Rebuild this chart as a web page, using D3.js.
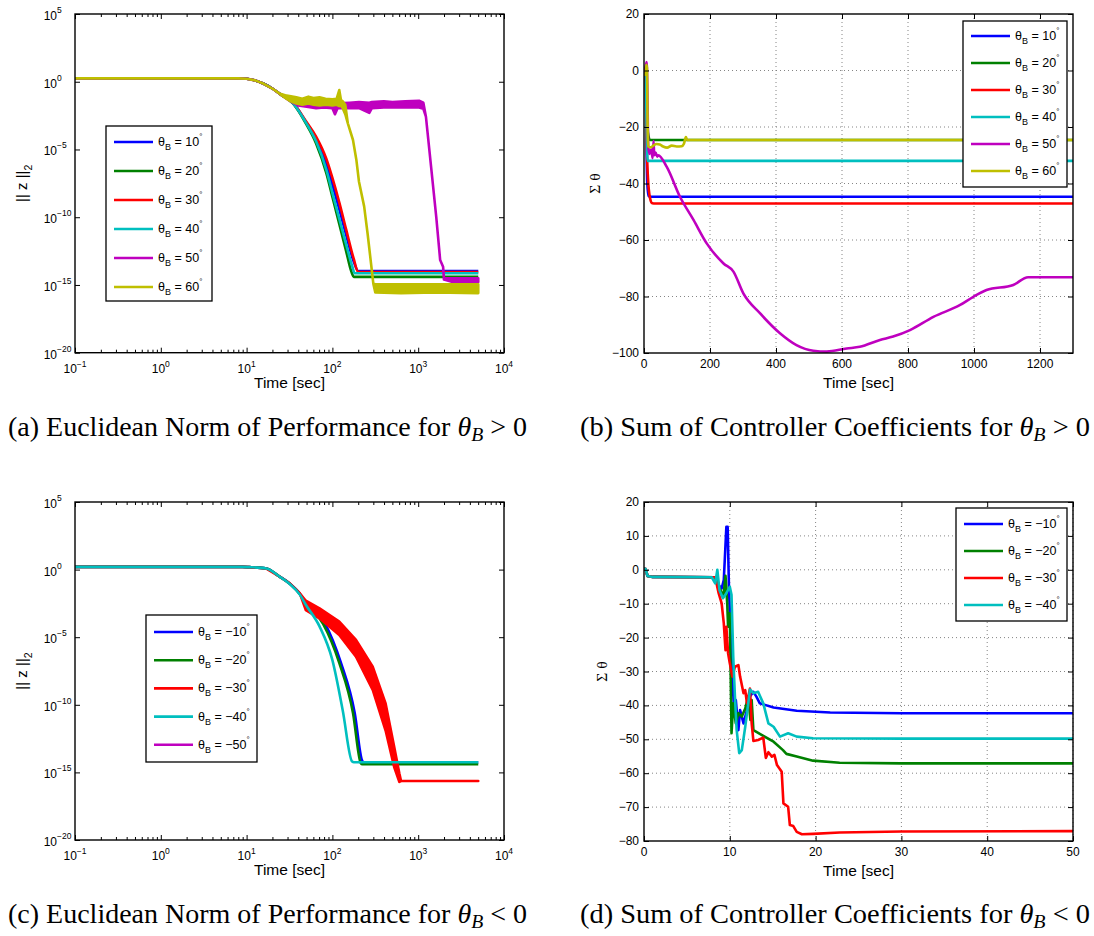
<!DOCTYPE html>
<html>
<head>
<meta charset="utf-8">
<script src="https://cdn.jsdelivr.net/npm/d3@7"></script>
<style>
  body { margin: 0; background: #fff; }
  text { font-family: "Liberation Sans", Arimo, Arial, Helvetica, sans-serif; fill: #000; }
  .cap { font-family: "Liberation Serif", Tinos, "Times New Roman", Times, serif; }
</style>
</head>
<body>
<svg id="fig" width="1094" height="936"></svg>
<script>
// ---------- data ----------
const colors = ["#0000ff", "#008000", "#ff0000", "#00bfbf", "#bf00bf", "#bfbf00"];
const anglesPos = [10, 20, 30, 40, 50, 60];
const anglesNeg = [-10, -20, -30, -40, -50];
const anglesNegD = [-10, -20, -30, -40];

const xLogTicks = [1e-1, 1, 10, 100, 1000, 10000];
const yLogTicks = [1e-20, 1e-15, 1e-10, 1e-5, 1, 1e5];
const xTicksB = [0, 200, 400, 600, 800, 1000, 1200];
const yTicksB = [-100, -80, -60, -40, -20, 0, 20];
const xTicksD = [0, 10, 20, 30, 40, 50];
const yTicksD = [-80, -70, -60, -50, -40, -30, -20, -10, 0, 10, 20];

// (a) ||z||2, theta_B > 0 : [log10 t, log10 z]
const normBlueA = [[-1,0.25],[0.9,0.25],[1.0,0.22],[1.1,0.1],[1.2,-0.15],[1.3,-0.5],[1.4,-0.95],[1.54,-1.55],[1.69,-2.95],[1.81,-4.2],[1.93,-6.1],[2.0,-7.6],[2.08,-9.4],[2.16,-11.3],[2.25,-13.3],[2.3,-13.97],[3.7,-13.97]];
const normGreenA = [[-1,0.25],[0.9,0.25],[1.0,0.22],[1.1,0.1],[1.2,-0.15],[1.3,-0.5],[1.4,-0.95],[1.54,-1.6],[1.69,-3.07],[1.81,-4.55],[1.93,-6.76],[2.0,-8.5],[2.08,-10.5],[2.16,-12.5],[2.22,-14.0],[2.25,-14.4],[3.7,-14.4]];
const normRedA = [[-1,0.25],[0.9,0.25],[1.0,0.22],[1.1,0.1],[1.2,-0.15],[1.3,-0.5],[1.4,-0.95],[1.54,-1.55],[1.69,-2.9],[1.81,-4.05],[1.93,-5.7],[2.0,-7.1],[2.08,-8.9],[2.16,-10.9],[2.25,-13.1],[2.3,-14.05],[3.7,-14.05]];
const normCyanA = [[-1,0.25],[0.9,0.25],[1.0,0.22],[1.1,0.1],[1.2,-0.15],[1.3,-0.5],[1.4,-0.95],[1.54,-1.58],[1.69,-3.0],[1.81,-4.4],[1.93,-6.5],[2.0,-8.2],[2.08,-10.1],[2.16,-12.0],[2.23,-13.6],[2.26,-14.14],[3.7,-14.14]];
// noisy ones: [log10 t, low, high]
const normMagentaA = [[-1,0.25,0.25],[0.9,0.25,0.25],[1.0,0.22,0.22],[1.1,0.1,0.1],[1.2,-0.15,-0.15],[1.3,-0.5,-0.5],[1.4,-0.95,-0.95],[1.5,-1.4,-1.15],[1.6,-1.75,-1.4],[1.7,-1.85,-1.5],[1.81,-1.95,-1.55],[1.9,-1.9,-1.55],[2.0,-1.95,-1.6],[2.03,-2.4,-1.65],[2.06,-1.95,-1.6],[2.2,-1.95,-1.55],[2.31,-1.95,-1.5],[2.43,-2.3,-1.55],[2.46,-1.95,-1.5],[2.6,-1.9,-1.45],[2.7,-1.9,-1.5],[2.85,-1.9,-1.45],[3.01,-1.9,-1.4],[3.06,-2.0,-1.55],[3.09,-2.58,-2.58],[3.15,-6.27,-6.27],[3.21,-9.96,-9.96],[3.256,-13.16,-13.16],[3.29,-13.65,-13.65],[3.3,-14.6,-14.5],[3.4,-14.78,-14.5],[3.7,-14.78,-14.5]];
const normYellowA = [[-1,0.25,0.25],[0.9,0.25,0.25],[1.0,0.22,0.22],[1.1,0.1,0.1],[1.2,-0.15,-0.15],[1.3,-0.5,-0.5],[1.38,-0.86,-0.86],[1.45,-1.2,-1.0],[1.5,-1.4,-1.05],[1.58,-1.6,-1.15],[1.65,-1.7,-1.25],[1.72,-1.6,-1.1],[1.78,-1.7,-1.2],[1.85,-1.75,-1.15],[1.92,-1.7,-1.25],[2.0,-1.75,-1.3],[2.05,-1.7,-1.25],[2.08,-1.8,-0.61],[2.1,-1.75,-1.35],[2.12,-1.95,-1.45],[2.15,-2.4,-1.7],[2.18,-3.07,-3.07],[2.24,-4.3,-4.3],[2.28,-5.8,-5.8],[2.31,-7.38,-7.38],[2.37,-9.2,-9.2],[2.41,-11.2,-11.2],[2.45,-13.4,-13.4],[2.477,-14.9,-14.9],[2.5,-15.55,-14.95],[2.8,-15.6,-14.95],[3.2,-15.55,-14.95],[3.7,-15.6,-14.95]];

// (b) sum of theta, theta_B > 0 : [t, value]
const sumBlueB = [[0,0],[5,-1],[8,-30],[10,-40],[14,-44.5],[20,-44.7],[1300,-44.7]];
const sumGreenB = [[0,0],[5,-1],[8,-10],[12,-22],[18,-24.6],[1300,-24.6]];
const sumRedB = [[0,0],[5,-1],[8,-25],[12,-38],[18,-45],[25,-47],[35,-47.1],[1300,-47.1]];
const sumCyanB = [[0,0],[5,-1],[8,-20],[11,-32],[1300,-32]];
const sumMagentaB = [[0,-1],[6,2],[8,3],[10,-5],[13,-27],[17,-29.5],[22,-28],[26,-31],[29,-25],[31,-30],[35,-29],[40,-30.5],[43,-30],[69,-34.1],[109,-44.7],[150,-52.9],[190,-61.2],[241,-68.3],[271,-71.2],[301,-78.9],[352,-86],[412,-93],[462,-97.2],[513,-99.2],[554,-99.5],[614,-98.4],[654,-97.8],[715,-95.4],[755,-94.2],[806,-91.9],[877,-87.2],[958,-83],[998,-80.1],[1038,-77.7],[1119,-75.9],[1164,-73.2],[1300,-73.2]];
const sumYellowB = [[0,-1],[4,-1.5],[7,2],[9,1],[11,-20],[13,-26.9],[20,-27.2],[28,-26.6],[38,-26.0],[48,-26.2],[58,-26.9],[70,-27.3],[84,-26.6],[99,-26.9],[114,-26.8],[121,-25.9],[127,-23.6],[131,-24.6],[1300,-24.6]];

// (c) ||z||2, theta_B < 0
const normBlueC = [[-1,0.2],[0.95,0.2],[1.03,0.18],[1.23,0.08],[1.38,-0.5],[1.5,-1.02],[1.62,-1.78],[1.69,-2.45],[1.91,-3.95],[2.1,-6.9],[2.26,-10.6],[2.345,-14.1],[2.36,-14.25],[3.7,-14.25]];
const normGreenC = [[-1,0.2],[0.95,0.2],[1.03,0.18],[1.23,0.08],[1.38,-0.5],[1.5,-1.03],[1.62,-1.8],[1.69,-2.5],[1.89,-4.0],[2.08,-6.9],[2.24,-10.6],[2.33,-14.3],[2.35,-14.4],[3.7,-14.4]];
const normRedC = [[-1,0.2,0.2],[0.95,0.2,0.2],[1.03,0.18,0.18],[1.23,0.08,0.08],[1.38,-0.5,-0.5],[1.5,-1.0,-1.0],[1.62,-1.75,-1.75],[1.69,-2.99,-2.3],[1.85,-3.6,-2.86],[2.08,-4.84,-3.85],[2.275,-6.44,-5.2],[2.47,-8.9,-7.18],[2.62,-11.9,-9.9],[2.72,-14.6,-13.1],[2.78,-15.7,-15.07],[2.8,-15.64,-15.64],[3.7,-15.64,-15.64]];
const normCyanC = [[-1,0.2],[0.95,0.2],[1.03,0.18],[1.23,0.08],[1.38,-0.5],[1.5,-1.05],[1.62,-1.85],[1.69,-2.6],[1.85,-4.2],[2.0,-6.7],[2.12,-10.4],[2.23,-14.2],[2.25,-14.25],[3.7,-14.25]];

// (d) sum of theta, theta_B < 0
const sumBlueD = [[0,0.3],[0.2,0.2],[0.4,-1.8],[1,-2.1],[8.3,-2.2],[8.7,-4.5],[9.05,-5.5],[9.3,-3],[9.6,12.7],[9.75,12.7],[9.9,-5],[10.1,-19.7],[10.3,-31.5],[10.5,-41.4],[10.7,-38.4],[11.0,-47.3],[11.2,-41.4],[11.6,-45.3],[12.0,-41.4],[12.35,-37.4],[12.75,-36],[13.1,-37.4],[13.5,-39.4],[15.1,-40.6],[17.8,-41.6],[21.7,-42.1],[30,-42.3],[50,-42.3]];
const sumGreenD = [[0,0.3],[0.2,0.2],[0.4,-1.8],[1,-2.1],[8.3,-2.2],[8.9,-6],[9.25,-7.9],[9.5,-1.8],[9.7,-9.9],[9.8,-16.8],[10.0,-12.8],[10.2,-48.2],[10.4,-39.4],[10.7,-45.3],[11.0,-42.3],[11.4,-43.3],[11.8,-40.9],[12.15,-37.4],[12.4,-44.3],[12.55,-38.4],[12.75,-47.3],[13.7,-48.7],[15.1,-50.7],[16.2,-53.2],[16.6,-54.3],[17.8,-55.1],[19.7,-56.3],[22.8,-56.9],[30,-57.1],[50,-57.1]];
const sumRedD = [[0,0.3],[0.2,0.2],[0.4,-1.8],[1,-2.1],[8.3,-2.2],[8.7,-6.9],[9.05,-9.9],[9.3,-15.8],[9.5,-23.7],[9.6,-16.8],[9.8,-24.6],[10.0,-27.6],[10.3,-31.5],[10.6,-28.6],[11.0,-28.1],[11.2,-31.5],[11.6,-36.4],[11.8,-35.5],[12.0,-39.4],[12.35,-35],[12.55,-45.3],[12.75,-50.5],[13.3,-50.2],[13.9,-49.5],[14.2,-55.5],[14.5,-53.8],[14.9,-55.1],[15.2,-54.6],[15.5,-57.6],[16.05,-59.6],[16.25,-68.9],[16.8,-69.9],[17.0,-75.3],[17.4,-75.6],[17.8,-77.3],[18.4,-78],[19.7,-77.9],[22.8,-77.5],[30,-77.2],[50,-77.1]];
const sumCyanD = [[0,0.3],[0.2,0.2],[0.4,-1.8],[1,-2.1],[7.9,-2.2],[8.3,-4],[8.55,0],[8.8,-6],[9.2,-8.4],[9.6,-6.9],[10.0,-5],[10.2,-7.4],[10.4,-25.6],[10.6,-37.4],[10.8,-47.3],[11.1,-54.1],[11.4,-53.2],[11.8,-46.3],[12.15,-39.4],[12.35,-35.3],[12.75,-36.4],[13.3,-36],[13.9,-39.4],[14.5,-45.3],[15.1,-46.3],[15.85,-49.2],[16.8,-48.2],[17.8,-49.2],[19.7,-49.7],[30,-49.8],[50,-49.8]];

// ---------- drawing ----------
const svg = d3.select("#fig");
let clipCount = 0;

function frame(p) {
  const g = svg.append("g");
  const id = "clip" + (clipCount++);
  svg.append("clipPath").attr("id", id).append("rect")
    .attr("x", p.left).attr("y", p.top)
    .attr("width", p.right - p.left).attr("height", p.bottom - p.top);
  g.clipId = id;
  return g;
}

function addAxes(g, p, x, y, xMajor, yMajor, xMinor) {
  const ax = g.append("g").attr("class", "axes");
  const mk = (sel) => { sel.select(".domain").remove(); sel.selectAll("line").attr("stroke", "#000"); };
  ax.append("g").attr("transform", `translate(0,${p.bottom})`)
    .call(d3.axisBottom(x).tickValues(xMajor).tickSize(-5).tickFormat("")).call(mk);
  ax.append("g").attr("transform", `translate(0,${p.top})`)
    .call(d3.axisTop(x).tickValues(xMajor).tickSize(-5).tickFormat("")).call(mk);
  if (xMinor) {
    ax.append("g").attr("transform", `translate(0,${p.bottom})`)
      .call(d3.axisBottom(x).tickValues(xMinor).tickSize(-3).tickFormat("")).call(mk);
    ax.append("g").attr("transform", `translate(0,${p.top})`)
      .call(d3.axisTop(x).tickValues(xMinor).tickSize(-3).tickFormat("")).call(mk);
  }
  ax.append("g").attr("transform", `translate(${p.left},0)`)
    .call(d3.axisLeft(y).tickValues(yMajor).tickSize(-5).tickFormat("")).call(mk);
  ax.append("g").attr("transform", `translate(${p.right},0)`)
    .call(d3.axisRight(y).tickValues(yMajor).tickSize(-5).tickFormat("")).call(mk);
  ax.append("rect").attr("x", p.left).attr("y", p.top)
    .attr("width", p.right - p.left).attr("height", p.bottom - p.top)
    .attr("fill", "none").attr("stroke", "#000").attr("stroke-width", 1.4);
}

function grid(g, p, x, y, xMajor, yMajor) {
  const gg = g.append("g").attr("stroke", "#777").attr("stroke-width", 0.9).attr("stroke-dasharray", "1,3");
  gg.selectAll(".gx").data(xMajor.slice(1, -1)).enter().append("line")
    .attr("x1", d => x(d)).attr("x2", d => x(d)).attr("y1", p.top).attr("y2", p.bottom);
  gg.selectAll(".gy").data(yMajor.slice(1, -1)).enter().append("line")
    .attr("y1", d => y(d)).attr("y2", d => y(d)).attr("x1", p.left).attr("x2", p.right);
}

function legend(g, bx, by, bw, bh, firstY, step, angles) {
  const lg = g.append("g");
  lg.append("rect").attr("x", bx).attr("y", by).attr("width", bw).attr("height", bh)
    .attr("fill", "#fff").attr("stroke", "#000").attr("stroke-width", 1.3);
  angles.forEach((a, i) => {
    const yy = firstY + i * step;
    lg.append("line").attr("x1", bx + 8).attr("x2", bx + 47).attr("y1", yy).attr("y2", yy)
      .attr("stroke", colors[i]).attr("stroke-width", 2.6);
    const t = lg.append("text").attr("x", bx + 52).attr("y", yy + 4).attr("font-size", 12.5);
    t.append("tspan").text("\u03b8");
    t.append("tspan").attr("dy", 4).attr("font-size", 9).text("B");
    t.append("tspan").attr("dy", -4).text(" = " + (a < 0 ? "\u2212" + (-a) : a));
    t.append("tspan").attr("dy", -7).attr("font-size", 8).text("\u00b0");
  });
}

function logLabels(g, p, x, y) {
  xLogTicks.forEach(v => {
    const e = Math.round(Math.log10(v));
    const t = g.append("text").attr("x", x(v)).attr("y", p.bottom + 20)
      .attr("text-anchor", "middle").attr("font-size", 12);
    t.append("tspan").text("10");
    t.append("tspan").attr("dy", -6).attr("font-size", 8.5).text(e < 0 ? "\u2212" + (-e) : e);
  });
  yLogTicks.forEach(v => {
    const e = Math.round(Math.log10(v));
    g.append("text").attr("x", p.left - 18).attr("y", y(v) + 6)
      .attr("text-anchor", "end").attr("font-size", 12).text("10");
    g.append("text").attr("x", p.left - 18).attr("y", y(v) - 1)
      .attr("font-size", 8.5).text(e < 0 ? "\u2212" + (-e) : e);
  });
}

function linLabels(g, p, x, y, xt, yt) {
  const fmt = d3.format("");
  g.selectAll(null).data(xt).enter().append("text")
    .attr("x", d => x(d)).attr("y", p.bottom + 15).attr("text-anchor", "middle")
    .attr("font-size", 12).text(d => fmt(d));
  g.selectAll(null).data(yt).enter().append("text")
    .attr("x", p.left - 5).attr("y", d => y(d) + 4).attr("text-anchor", "end")
    .attr("font-size", 12).text(d => fmt(d));
}

function xLabel(g, p, dy) {
  g.append("text").attr("x", (p.left + p.right) / 2).attr("y", p.bottom + dy)
    .attr("text-anchor", "middle").attr("font-size", 15.5).text("Time [sec]");
}

function normYLabel(g, cx, cy) {
  const t = g.append("text").attr("transform", `translate(${cx},${cy}) rotate(-90)`)
    .attr("text-anchor", "middle").attr("dy", "0.35em").attr("font-size", 15);
  t.append("tspan").text("|| z ||");
  t.append("tspan").attr("dy", 5).attr("font-size", 10.5).text("2");
}

function sumYLabel(g, cx, cy) {
  g.append("text").attr("transform", `translate(${cx},${cy}) rotate(-90)`)
    .attr("text-anchor", "middle").attr("dy", "0.35em").attr("font-size", 15.5)
    .style("font-family", "'Liberation Serif', Tinos, serif").text("\u03a3 \u03b8");
}

function caption(x0, yb, w, letter, words, rel) {
  const t = svg.append("text").attr("class", "cap").attr("x", x0).attr("y", yb)
    .attr("font-size", 27).attr("textLength", w).attr("lengthAdjust", "spacingAndGlyphs");
  t.append("tspan").text(`(${letter}) ${words} for `);
  t.append("tspan").attr("font-style", "italic").text("\u03b8");
  t.append("tspan").attr("font-style", "italic").attr("font-size", 19).attr("dy", 5).text("B");
  t.append("tspan").attr("dy", -5).text(` ${rel} 0`);
}

const xMinorLog = [];
[-1, 0, 1, 2, 3].forEach(k => { for (let m = 2; m <= 9; m++) xMinorLog.push(m * Math.pow(10, k)); });

function logPanel(p, lines, angles, leg) {
  const g = frame(p);
  const x = d3.scaleLog().domain([1e-1, 1e4]).range([p.left, p.right]);
  const y = d3.scaleLog().domain([1e-20, 1e5]).range([p.bottom, p.top]);
  const data = g.append("g").attr("clip-path", `url(#${g.clipId})`);
  const line = d3.line().curve(d3.curveMonotoneX)
    .x(d => x(Math.pow(10, d[0]))).y(d => y(Math.pow(10, d[1])));
  const area = d3.area().x(d => x(Math.pow(10, d[0])))
    .y0(d => y(Math.pow(10, d[1]))).y1(d => y(Math.pow(10, d[2])));
  lines.forEach(s => {
    if (s.band) {
      data.append("path").attr("d", area(s.pts)).attr("fill", colors[s.c])
        .attr("stroke", colors[s.c]).attr("stroke-width", 2.6).attr("stroke-linejoin", "round");
    } else {
      data.append("path").attr("d", line(s.pts)).attr("fill", "none")
        .attr("stroke", colors[s.c]).attr("stroke-width", 2.6).attr("stroke-linejoin", "round");
    }
  });
  addAxes(g, p, x, y, xLogTicks, yLogTicks, xMinorLog);
  logLabels(g, p, x, y);
  xLabel(g, p, 35);
  normYLabel(g, 22, (p.top + p.bottom) / 2);
  legend(g, leg[0], leg[1], leg[2], leg[3], leg[4], leg[5], angles);
}

function linPanel(p, xDom, yDom, xt, yt, lines, angles, leg, ylx, smooth) {
  const g = frame(p);
  const x = d3.scaleLinear().domain(xDom).range([p.left, p.right]);
  const y = d3.scaleLinear().domain(yDom).range([p.bottom, p.top]);
  grid(g, p, x, y, xt.concat([xDom[1]]), yt);
  const data = g.append("g").attr("clip-path", `url(#${g.clipId})`);
  const line = d3.line().curve(smooth ? d3.curveMonotoneX : d3.curveLinear)
    .x(d => x(d[0])).y(d => y(d[1]));
  lines.forEach(s => {
    data.append("path").attr("d", line(s.pts)).attr("fill", "none")
      .attr("stroke", colors[s.c]).attr("stroke-width", 2.6).attr("stroke-linejoin", "round");
  });
  addAxes(g, p, x, y, xt, yt, null);
  linLabels(g, p, x, y, xt, yt);
  xLabel(g, p, 35);
  sumYLabel(g, ylx, (p.top + p.bottom) / 2);
  legend(g, leg[0], leg[1], leg[2], leg[3], leg[4], leg[5], angles);
}

// (a)
logPanel({ left: 75, right: 504, top: 14, bottom: 352.7 },
  [{ c: 0, pts: normBlueA }, { c: 1, pts: normGreenA }, { c: 2, pts: normRedA }, { c: 3, pts: normCyanA },
   { c: 4, pts: normMagentaA, band: true }, { c: 5, pts: normYellowA, band: true }],
  anglesPos, [106, 126, 106, 175, 142, 29]);

// (b)
linPanel({ left: 644, right: 1073, top: 14, bottom: 353 }, [0, 1300], [-100, 20], xTicksB, yTicksB,
  [{ c: 0, pts: sumBlueB }, { c: 1, pts: sumGreenB }, { c: 2, pts: sumRedB }, { c: 3, pts: sumCyanB },
   { c: 4, pts: sumMagentaB }, { c: 5, pts: sumYellowB }],
  anglesPos, [963, 21, 104, 166, 36, 27], 595, true);

// (c)
logPanel({ left: 75, right: 504, top: 502, bottom: 840 },
  [{ c: 0, pts: normBlueC }, { c: 1, pts: normGreenC }, { c: 2, pts: normRedC, band: true }, { c: 3, pts: normCyanC }],
  anglesNeg, [146, 615, 111, 147, 632, 28.2]);

// (d)
linPanel({ left: 644, right: 1073, top: 502, bottom: 841 }, [0, 50], [-80, 20], xTicksD, yTicksD,
  [{ c: 0, pts: sumBlueD }, { c: 1, pts: sumGreenD }, { c: 2, pts: sumRedD }, { c: 3, pts: sumCyanD }],
  anglesNegD, [956, 508, 111, 113, 524, 27], 602, false);

// captions
caption(8, 436, 519, "a", "Euclidean Norm of Performance", ">");
caption(580, 436, 510, "b", "Sum of Controller Coefficients", ">");
caption(8, 923, 519, "c", "Euclidean Norm of Performance", "<");
caption(580, 923, 510, "d", "Sum of Controller Coefficients", "<");
</script>
</body>
</html>
